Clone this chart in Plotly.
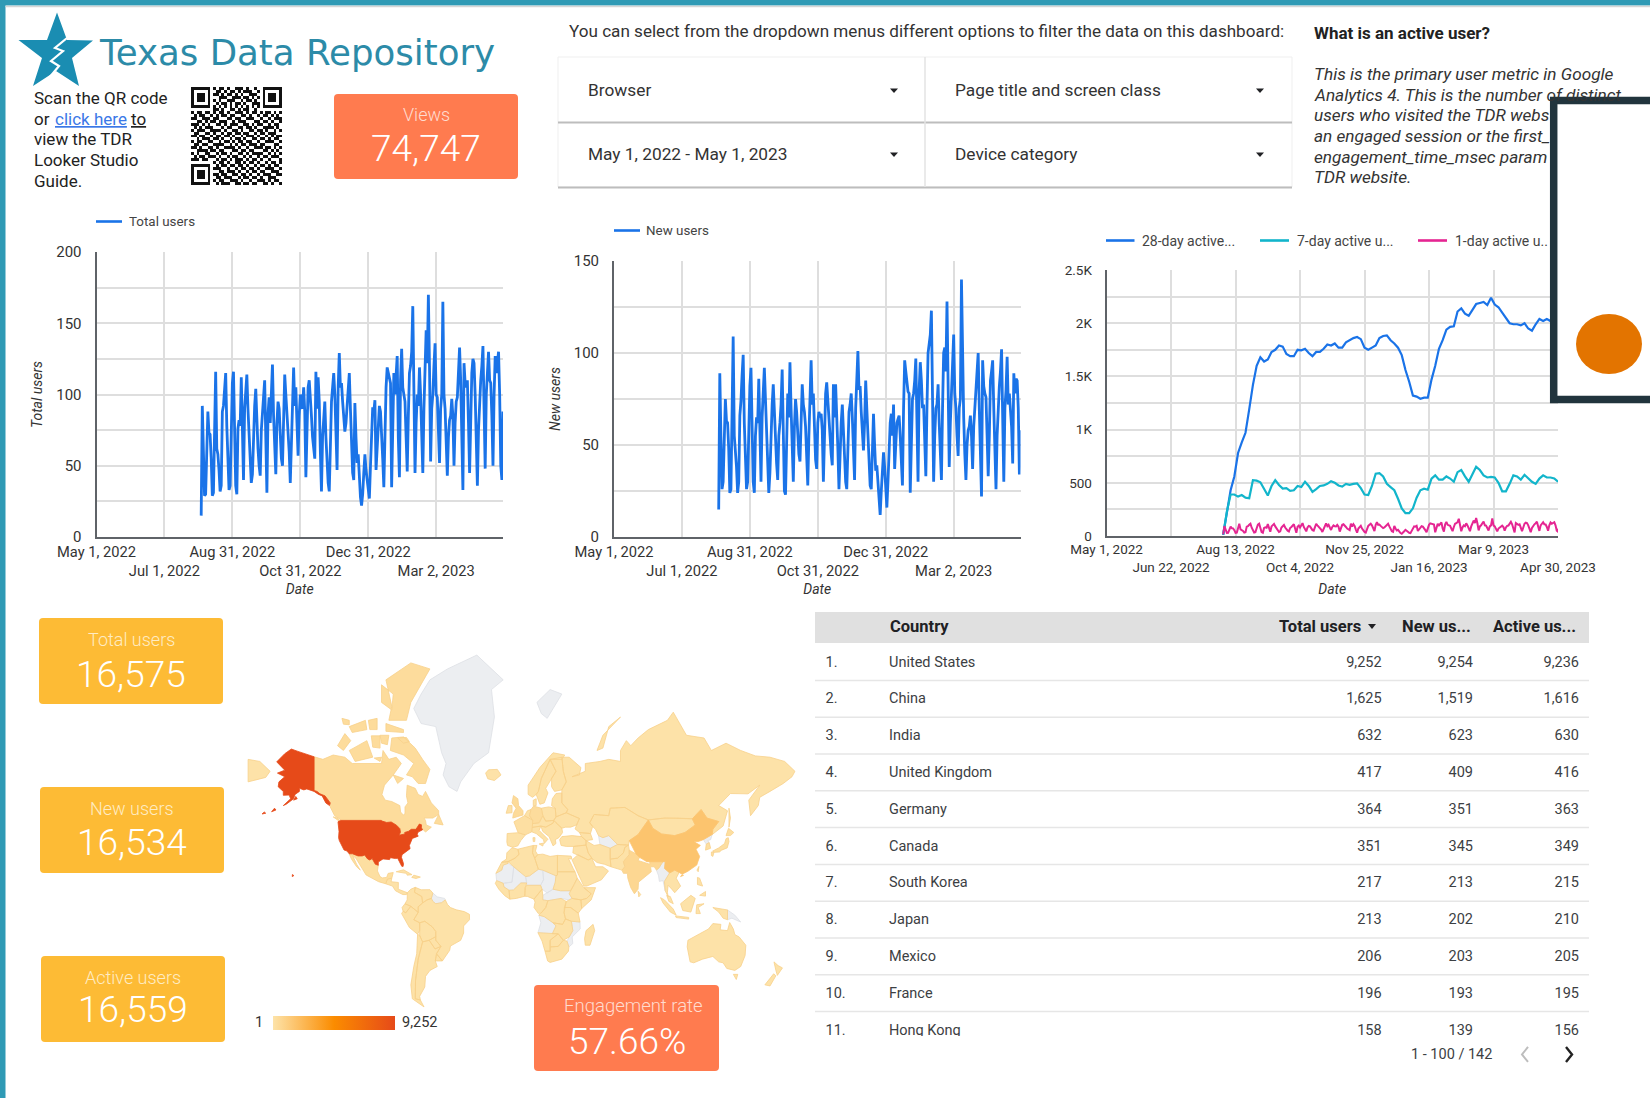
import math
import pandas as pd
import plotly.graph_objects as go

W, H = 1650, 1098

# ------------------------------------------------------------------ data
total_users = [
 15,92,60,29,30,70,88,73,72,55,29,31,80,116,62,58,47,32,36,88,92,105,115,78,50,33,36,75,108,116,
 62,36,30,76,82,78,112,82,40,90,105,114,90,72,48,38,44,80,92,104,80,62,50,43,75,85,96,110,70,31,
 86,98,80,106,121,85,60,44,80,95,90,70,55,50,85,114,100,88,80,60,38,70,95,119,92,105,80,57,85,100,
 92,90,105,88,42,85,105,110,100,85,70,60,55,116,90,112,95,60,32,70,85,95,70,48,38,32,75,95,105,115,
 100,70,47,105,129,105,108,95,85,74,80,95,100,115,90,70,45,40,94,70,52,58,40,28,22,30,45,58,47,40,
 30,27,50,75,91,88,96,47,65,85,92,88,75,55,35,80,105,119,115,110,108,35,70,115,100,118,127,70,42,110,
 132,105,100,95,70,46,85,115,120,130,162,95,45,80,100,92,119,100,70,45,90,130,145,122,170,120,53,90,100,120,
 136,100,98,75,52,90,100,165,100,90,60,43,70,82,85,97,85,50,80,95,98,115,133,110,70,33,122,108,105,110,
 80,45,80,115,125,122,100,60,36,75,100,110,120,134,90,48,100,115,130,110,108,85,50,100,127,115,125,130,100,50,
 40,88]
new_users = [
 15,89,55,26,30,60,75,63,62,48,24,26,70,109,55,48,38,24,30,66,74,88,99,62,40,26,30,60,82,92,
 58,30,24,55,65,62,86,62,30,65,80,92,75,55,38,24,35,60,72,83,65,50,40,31,55,62,72,91,55,25,
 23,60,78,65,95,70,48,30,60,75,68,55,45,41,60,83,72,68,60,45,28,55,80,96,72,78,60,42,37,62,
 68,65,67,58,30,60,78,84,76,65,55,45,39,83,65,83,68,48,26,50,62,72,55,38,30,26,55,68,72,78,
 65,50,31,70,90,101,80,82,68,55,47,62,85,70,55,40,28,26,50,67,50,36,39,28,16,12,25,38,46,38,
 28,16,30,50,62,67,55,72,37,50,62,64,66,55,40,28,70,96,90,85,79,78,24,50,75,78,85,97,60,30,
 80,95,85,70,72,55,33,70,100,105,110,123,70,30,55,70,72,83,62,45,31,70,100,103,90,128,80,38,62,80,
 90,110,78,70,55,44,70,75,140,85,65,45,31,50,58,60,66,55,37,60,70,78,90,100,70,45,22,96,82,78,
 76,55,33,55,85,90,96,70,45,26,55,72,82,90,102,65,30,70,80,98,72,78,70,60,40,89,78,86,85,70,
 34,58]
active_28day = [
 10,240,430,560,780,880,970,1190,1420,1600,1680,1640,1660,1730,1750,1790,1780,1710,1690,1690,
 1750,1745,1760,1720,1690,1730,1730,1760,1800,1790,1810,1770,1770,1820,1840,1860,1870,1850,1770,1750,
 1770,1790,1860,1880,1885,1840,1810,1770,1700,1560,1450,1320,1310,1290,1300,1300,1470,1600,1760,1840,
 1940,1965,1970,2110,2140,2090,2070,2130,2180,2190,2200,2170,2240,2175,2150,2100,2050,2000,1990,1990,
 1980,2000,1950,1930,1990,2040,2020,2040,2020,2050,2040]
active_7day = [
 10,230,390,390,370,385,360,355,525,520,505,440,380,470,525,480,445,450,425,430,
 470,460,510,470,415,440,470,475,490,515,500,475,465,490,480,490,495,450,390,385,
 470,585,590,560,490,460,430,350,260,215,215,260,360,430,445,435,540,570,530,530,
 560,540,510,600,620,560,510,580,650,620,570,550,555,550,500,420,420,490,570,560,
 530,575,540,510,490,540,570,550,550,540,510]
active_1day = total_users

data_start = "2022-08-03"
chart_ticks_a = ["2022-05-01","2022-07-01","2022-08-31","2022-10-31","2022-12-31","2023-03-02"]
chart_labels_a = ["May 1, 2022","<br>Jul 1, 2022","Aug 31, 2022","<br>Oct 31, 2022","Dec 31, 2022","<br>Mar 2, 2023"]
chart_ticks_b = ["2022-05-01","2022-06-22","2022-08-13","2022-10-04","2022-11-25","2023-01-16","2023-03-09","2023-04-30"]
chart_labels_b = ["May 1, 2022","<br>Jun 22, 2022","Aug 13, 2022","<br>Oct 4, 2022","Nov 25, 2022","<br>Jan 16, 2023","Mar 9, 2023","<br>Apr 30, 2023"]

table_countries = ["United States","China","India","United Kingdom","Germany","Canada","South Korea","Japan","Mexico","France","Hong Kong"]
table_total = [9252,1625,632,417,364,351,217,213,206,196,158]
table_new = [9254,1519,623,409,351,345,213,202,203,193,139]
table_active = [9236,1616,630,416,363,349,215,210,205,195,156]

paragraph_lines = ["This is the primary user metric in Google","Analytics 4. This is the number of distinct",
                   "users who visited the TDR webs","an engaged session or the first_",
                   "engagement_time_msec param","TDR website."]
guide_lines = ["Scan the QR code",None,"view the TDR","Looker Studio","Guide."]

qr_rows = [
"111111101011010011101001001111111","100000100110101101011100101000001","101110101101011010100111001011101",
"101110100011100111011010101011101","101110101010011100101101001011101","100000100101101011010011101000001",
"111111101010101010101010101111111","000000001101001101011001000000000",
"101101101011010011101011010110101","010110010101101100110100101101010","110011101100011011001110010010111",
"001101011011100101110001101101001","111010100110101110011010110010110","010101110001011001101101001111010",
"101110011110100110100110110100101","011001101001011011011001011011100","110110010110110100101110100101011",
"001011101101001011010011011010110","101100110010110101101100100111001","011011001111001010110111011000110",
"110100110100111101001001110110101","001111011011000110110110001101010","101001100101101001101011110010101",
"010110111010010110010100101101110","111011000101101011101011010010001",
"000000001011010011010110100101101","111111100101101101101001011010110","100000101110010010110110100111001",
"101110100011011101001011011001110","101110101101100110110100101110011","101110100110111001011011010011100",
"100000101011001110100100111010110","111111100101110011011011001101001"]

# Map outlines (lon, lat)
MAP = {
"US":[[(-124.7,48.4),(-123,49),(-95.2,49),(-94.6,48.7),(-91.5,48.1),(-88.4,48.3),(-84.8,46.9),(-83.5,46),(-82.5,45.3),(-82.1,43.6),(-83.1,42.2),(-79,42.8),(-79.2,43.5),(-76.5,44.1),(-74.7,45),(-71.5,45),(-70.3,46.2),(-69.2,47.4),(-67.8,47.1),(-67.8,45.7),(-67,44.8),(-70,43.7),(-70.7,42.7),(-70,41.7),(-74,40.6),(-75.5,38.5),(-76,37),(-75.5,35.3),(-78,33.9),(-81,32),(-81.4,30.5),(-80,26.8),(-80.3,25.2),(-81.2,25.3),(-82.8,28),(-84,30),(-85.5,29.8),(-89,30.3),(-89.5,29.2),(-91.5,29.5),(-94,29.6),(-97.2,27.8),(-97.2,25.9),(-99.2,26.5),(-101.4,29.8),(-103,29),(-104.5,29.6),(-106.5,31.8),(-108.2,31.3),(-111,31.3),(-114.8,32.5),(-117.1,32.5),(-118.5,34),(-120.6,34.6),(-122,36.7),(-123.8,39.5),(-124.3,41),(-124,44)],
 [(-141,69.6),(-145,70),(-152,70.8),(-156.5,71.3),(-161,70.3),(-166.5,68.4),(-163,67),(-161,66.3),(-166,65.5),(-161,64.5),(-165,63),(-165.5,61.5),(-162,60),(-162,58.7),(-158,58.8),(-157,57.5),(-162,55),(-160,55.5),(-155,57.5),(-154,59),(-151,60),(-151,61),(-148,60.5),(-146,60.8),(-141,60),(-138,59),(-135.5,58.5),(-133,56),(-130.5,55),(-130,56),(-133.5,58.5),(-137,59.2),(-139,60),(-141,60.3)],
 [(-155.9,19),(-154.8,19.6),(-155.8,20.3)],[(-170,52.6),(-167,53.3),(-168,54)],[(-176.5,51.7),(-174,52),(-175,52.5)],[(-155,57),(-152.5,57.5),(-153.5,58.3)]],
"CA":[[(-141,69.6),(-135,69),(-128,70),(-120,69.5),(-115,68),(-108,68),(-100,68),(-95,68),(-94,71),(-90,69),(-85,69.5),(-81.5,68),(-87,65),(-93,62),(-94.7,59),(-92.5,57),(-88,56.5),(-82.5,55),(-82,52.5),(-80,51.2),(-79,52),(-79,54.5),(-77,56),(-78,58.5),(-77.5,62),(-72,61),(-70,59),(-67,58.3),(-65,60),(-61,56),(-56,53),(-56,51.5),(-60,50),(-66,50),(-65,49),(-64.5,47),(-61,46),(-65,43.7),(-66.5,44.8),(-67,44.8),(-67.8,45.7),(-67.8,47.1),(-69.2,47.4),(-70.3,46.2),(-71.5,45),(-74.7,45),(-76.5,44.1),(-79.2,43.5),(-79,42.8),(-83.1,42.2),(-82.1,43.6),(-82.5,45.3),(-83.5,46),(-84.8,46.9),(-88.4,48.3),(-91.5,48.1),(-94.6,48.7),(-95.2,49),(-123,49),(-123.3,49.5),(-127,51),(-130,54.5),(-130,56),(-133.5,58.5),(-137,59.2),(-139,60),(-141,60.3)],
 [(-80,73.7),(-72,71.5),(-67,69),(-62,66.5),(-65,62.5),(-70,62.5),(-74,64.5),(-78,65),(-73,68),(-80,70),(-89,71),(-88,73.5)],
 [(-117,71),(-105,73),(-101,69.5),(-113,68.5)],[(-125,72),(-120,74.3),(-116,73),(-121,71)],
 [(-90,76.5),(-78,76.5),(-75,79),(-62,82.5),(-75,83),(-92,81.5),(-88,78.5)],[(-92,76),(-80,75),(-80,74.5),(-92,74.7)],
 [(-117,75.5),(-106,76.5),(-105,75),(-115,74.5)],[(-87,65),(-80,64),(-84,62.5)],[(-59,47.7),(-56,51.5),(-53,47)],[(-128,50.5),(-123.5,48.5),(-125,50)],
 [(-102,73.9),(-96,73.9),(-96,71.5),(-101,71.7)],[(-96,74),(-90,74),(-91,72.2),(-95,72.5)],[(-100,69.3),(-95,69.5),(-96,68.5)],
 [(-95,81),(-87,80),(-88,78),(-95,79)],[(-104,76.5),(-98,76.8),(-98,75),(-103,75)],[(-122,76.8),(-117,76.5),(-117,75.8),(-121,75.9)],
 [(-84,73.5),(-78,73.6),(-76,72.8),(-80,72.5)]],
"MX":[[(-117.1,32.5),(-114.8,32.5),(-111,31.3),(-108.2,31.3),(-106.5,31.8),(-104.5,29.6),(-103,29),(-101.4,29.8),(-99.2,26.5),(-97.2,25.9),(-97.8,22.5),(-96,19),(-94.5,18.2),(-91.5,18.5),(-90.5,21),(-87,21.5),(-88,18),(-91,17.5),(-92.2,14.5),(-97,15.8),(-105.5,20),(-109,25.5),(-112.5,30),(-114.7,31.5),(-112,26.5),(-109.5,23),(-112,25),(-115.5,29.5)]],
"CN":[[(80,42.5),(87,49.2),(90,45.5),(96,42.8),(105,42),(112,43.5),(119,47),(117,49.7),(123,53.5),(127,50),(135,48.5),(131,45),(130.5,42.5),(124.5,40),(121,39),(118,39),(122.5,37),(119.5,35),(122,31),(120,26),(114,22.3),(110,20.5),(108,21.6),(105,23),(101.5,21.3),(98,24),(98.5,28),(92,28),(86,28),(81,30.5),(78.5,32.5),(74,39.5)],[(109,19),(111,19.8),(110,20.2)]],
"IN":[[(74,34.5),(78.5,32.5),(81,30.5),(80,28.7),(88,26.5),(88,28),(92,28),(97,28),(94,24),(92.5,23),(91,25),(88.5,25),(89,22),(86.5,20),(80.3,15.5),(80,11),(77.5,8),(75,12),(73,18),(72.7,21),(70,21),(69,23),(71,25),(70,28),(74,32)]],
"GB":[[(-5.5,50),(1.5,51.3),(1.5,53),(-1.5,55),(-2,57.5),(-5,58.6),(-6,56),(-3.2,54),(-5,52)]],
"DE":[[(6,51),(7,53.5),(8.7,54.8),(14,54),(15,51),(12.5,48),(8,47.6),(8.2,49)]],
"KR":[[(126,34.5),(126.5,37.7),(128.5,38.5),(129.5,35.5)]],
"JP":[[(130.9,34),(135,35.7),(139,38),(140,40.5),(141.5,41),(142,39),(140.8,35.7),(137,34.5),(135.5,33.5),(132,33.3)],[(140,42),(141.7,45.5),(145.3,43.5),(143,42)],[(130,33.5),(131.8,33.5),(131,31),(130,31.5)]],
"FR":[[(-1.8,43.4),(-4.7,48.4),(2.5,51),(8.2,49),(7.5,43.8),(3.2,42.4)]],
}
MAP_USERS = {"US":9252,"CN":1625,"IN":632,"GB":417,"DE":364,"CA":351,"KR":217,"JP":213,"MX":206,"FR":196}
MAP_LOW = [
 [(-24,65.5),(-22,66.4),(-16,66.5),(-13.5,65),(-18,63.4),(-22.5,63.9)],[(52,71),(56,74),(68,77),(60,75.5),(56,71.5)],
 [(-92.2,14.5),(-91,17.5),(-88,18),(-88.5,15.8),(-83.5,15.3),(-83.6,11),(-79.5,9.5),(-77.4,8.7),(-78,7.5),(-80.5,7.5),(-85.5,10),(-87.5,13)],
 [(-85,22),(-80,23.2),(-74.2,20.2),(-77.5,19.9),(-78,21)],[(-74.4,18.5),(-73,19.9),(-68.5,18.7),(-71.5,17.8)],
 [(-77.4,8.7),(-75,11),(-72,12.2),(-72.5,9),(-67.5,6.2),(-67,2),(-70,-0.5),(-70,-4.2),(-75,-0.2),(-79,1.5),(-77.5,4)],
 [(-72,12.2),(-68,10.6),(-62,10.7),(-60,8.5),(-61,5),(-64,4),(-67,2),(-67.5,6.2),(-72.5,9)],
 [(-79,1.5),(-75,-0.2),(-78.5,-4.5),(-80.3,-3.4),(-81,-1)],
 [(-80.3,-3.4),(-78.5,-4.5),(-75,-0.2),(-70,-4.2),(-73,-9),(-69,-11),(-69,-16),(-70.4,-18.3),(-76,-14),(-81.3,-5)],
 [(-70,-4.2),(-70,-0.5),(-67,2),(-64,4),(-61,5),(-60,3),(-58,1.5),(-54,2.2),(-51.5,4),(-50,1),(-48,-1),(-44,-2.5),(-38.5,-3.7),(-35,-5.5),(-35,-9),(-39,-13),(-39,-17.5),(-41,-22),(-48,-25.5),(-48.5,-28),(-53.5,-34),(-57.5,-30),(-54.5,-25.7),(-58,-22),(-58,-16.5),(-60.5,-13.5),(-65.5,-10),(-69,-11),(-73,-9)],
 [(-69,-11),(-65.5,-10),(-60.5,-13.5),(-58,-16.5),(-58,-19.8),(-62.5,-22),(-67,-23),(-69,-19),(-69,-16)],
 [(-58,-19.8),(-58,-22),(-54.5,-25.7),(-58.5,-27.2),(-62.5,-22)],
 [(-70.4,-18.3),(-69,-19),(-67,-23),(-70,-33),(-71.8,-44),(-72,-52),(-68.5,-52.5),(-66,-55.2),(-74,-52),(-75,-46),(-73,-37),(-71,-30)],
 [(-67,-23),(-62.5,-22),(-58.5,-27.2),(-54.5,-25.7),(-57.5,-30),(-58.3,-34),(-57,-37),(-62,-39),(-65,-42),(-65.5,-47),(-69,-51),(-68.5,-52.5),(-72,-52),(-71.8,-44),(-70,-33)],
 [(-57.5,-30),(-53.5,-34),(-58.3,-34)],
 [(-13,27.7),(-9.8,29.5),(-9.5,33),(-6,35.8),(-2,35),(-1.2,32.2),(-4,30),(-8.7,28)],
 [(-8.7,28),(-4,30),(-1.2,32.2),(-2,35),(8.5,37),(8,33),(9.5,30),(12,23.5),(6,19.5),(3.3,19),(-4.8,25)],
 [(8.5,37),(11,37),(10,34),(11.5,32),(9.5,30),(8,33)],
 [(11.5,32),(15,32.3),(20,31),(25,31.6),(25,20),(24,19.5),(15,23),(12,23.5),(9.5,30)],
 [(25,31.6),(32,31.2),(34.3,31.2),(34.9,29.5),(32.5,29.8),(35.8,23.9),(37,22),(25,22)],
 [(-17,21),(-13,27.7),(-8.7,28),(-8.7,27),(-12,26),(-13,23)],
 [(-16.5,16.5),(-12,14.8),(-11.5,12.5),(-8,10.3),(-7.5,4.5),(-11,6.8),(-15,11),(-17.4,14.7)],
 [(-8,10.3),(-5,10.5),(0,15),(4,15),(3,12),(2.7,6.4),(-3,5),(-7.5,4.5)],
 [(2.7,6.4),(3,12),(4,13.5),(13.5,13.5),(14.5,11),(9,4.5),(4.5,6.3)],
 [(24,19.5),(25,20),(25,22),(37,22),(38.5,18),(36.5,14),(34,10),(27,10),(22,11),(23.5,15.5)],
 [(36.5,14),(38.5,18),(43,12),(48,8),(45,5),(41,4),(35,5),(33,8),(34,10)],
 [(43,12),(51,12),(48,4),(41.5,-1.7),(41,4),(45,5),(48,8)],
 [(9,4.5),(14.5,11),(15,7),(15,4),(18.5,3.5),(17,-1),(14,-4.5),(12,-5),(9,-1),(9.7,2.5)],
 [(18.5,3.5),(27.5,5),(31,3),(29.5,-4.5),(30.5,-8.5),(28.5,-12),(22,-11),(16,-7),(12.3,-6),(14,-4.5),(17,-1)],
 [(31,3),(33,4),(35,5),(41,4),(41.5,-1.7),(39.2,-4.7),(34,-1),(29.7,-1)],
 [(29.7,-1),(34,-1),(39.2,-4.7),(40.4,-10.5),(34.5,-10),(30.5,-8.5),(29.5,-4.5)],
 [(22,-11),(28.5,-12),(30.5,-8.5),(34.5,-10),(35.5,-16),(33,-20),(29,-22),(25.5,-18),(21.5,-18),(24,-13)],
 [(11.7,-17.3),(21.5,-18),(25.5,-18),(20,-22),(20,-28.5),(16.5,-28.5),(14.5,-22.5)],
 [(20,-22),(25.5,-18),(29,-22),(25.5,-25.7),(20,-26)],
 [(16.5,-28.5),(20,-28.5),(20,-26),(25.5,-25.7),(29,-22),(31.5,-22.5),(32.8,-26),(32.5,-28.5),(28,-33),(20,-34.8),(18.3,-34)],
 [(49.3,-12),(50.4,-16),(47.2,-25),(44,-25),(43.5,-21),(44.5,-16)],
 [(-9.3,43),(-1.8,43.4),(3.2,42.4),(0,39.5),(-2,36.8),(-5.5,36),(-9,37),(-9.5,38.8)],
 [(2.5,51),(4.5,53),(7,53.5),(6,51),(8.2,49)],
 [(7.5,43.8),(7,45.8),(13.7,46.5),(12.5,44.5),(18.5,40.2),(16,38),(15.5,40),(10.5,43)],
 [(12.5,37.8),(15.5,38.2),(15,36.7)],[(8.3,41),(9.7,41),(9.5,39),(8.5,39)],
 [(14,54),(19,54.5),(23.5,54),(24,50.5),(22.5,49),(17,48.7),(15,51)],
 [(8,47.6),(12.5,48),(15,51),(17,48.7),(22.5,49),(22,47.8),(17,46),(13.7,46.5),(7,45.8)],
 [(13.7,46.5),(17,46),(22,47.8),(22.5,49),(24,48),(28,45.5),(28.5,43.5),(26,41),(23.5,40),(24,38),(22,36.8),(19.3,41.5),(15,44)],
 [(22.5,49),(24,50.5),(31,52.2),(40,49.8),(38,47),(34,46),(30.5,46),(28,45.5),(24,48)],
 [(21,55),(21.5,57.5),(24,59.3),(28,59.5),(28,56),(32,53.5),(31,52.2),(24,50.5),(23.5,54)],
 [(-10,52),(-6,52.2),(-6,55),(-8.5,55)],
 [(5,59),(5,62),(13,67),(22,70.5),(30,70),(28,69),(20,69),(14,64),(12,60),(10.5,59),(8,58)],
 [(10.5,59),(12,60),(14,64),(20,69),(24,66),(21,64),(17,61),(18.5,59.5),(16,56),(13,55.5)],
 [(24,66),(20,69),(28,69.5),(29,66),(31,63),(28,60.5),(23,60),(21,61.5),(21,64)],
 [(8.5,55),(8.5,57),(10.5,57.5),(10.5,55)],
 [(26.5,40),(28,41.5),(35,42),(41.5,41.5),(44.5,39.5),(44.5,37.2),(36,36.5),(31,36.5),(27.5,37)],
 [(28,69.5),(33,69.5),(41,67),(40,65),(35,64.5),(44,66),(44,68),(54,68.5),(60,69),(68,68.5),(68,71),(72,73),(75,72),(80,73.5),(87,75),(100,76.5),(104,77.7),(113,74),(125,73.5),(130,71),(140,72.5),(150,71),(160,69.8),(170,69.5),(180,68.5),(187,66),(185,64.5),(179,62.5),(170,60),(163,58),(162,55),(156.7,51),(155.5,57),(163,62),(155,59.2),(143,59.3),(135,55),(141,53),(138,46.5),(132,43),(130.5,42.5),(131,45),(135,48.5),(127,50),(123,53.5),(117,49.7),(107,50),(98,50),(87,49.2),(80,51),(71,54.3),(61,54),(60,51),(50,51.5),(47,48),(49,46.3),(47.5,43),(40,43.5),(37,45.2),(38,47),(40,49.8),(31,52.2),(32,53.5),(28,56),(28,59.5),(28,60.5),(31,63),(29,66)],
 [(-186,69),(-178,68.5),(-171,66),(-174,64.3),(-186,63)],[(142,46),(142,54),(143,50)],
 [(50,51.5),(60,51),(61,54),(71,54.3),(80,51),(87,49.2),(80,42.5),(74,39.5),(73.5,37.2),(66,37.5),(60,42),(56,41),(53,42),(51,45),(49,46.3),(47,48)],
 [(87,49.2),(98,50),(107,50),(117,49.7),(119,47),(112,43.5),(105,42),(96,42.8),(90,45.5)],
 [(120.2,23),(121.5,25.2),(121,22)],
 [(61,29.5),(61.5,25),(69,23),(71,25),(70,28),(74,32),(74,34.5),(73.5,37.2),(71,36),(70,33),(66,30)],
 [(61,35.5),(66,37.5),(73.5,37.2),(71,36),(70,33),(66,30),(61,29.5)],
 [(44.5,39.5),(48.5,38),(50,37),(54,37.5),(61,35.5),(61,29.5),(61.5,25),(57,26.5),(52,27.5),(48.5,30),(46,33),(44.5,37.2)],
 [(36,36.5),(44.5,37.2),(46,33),(48.5,30),(46,29),(39,32),(35.5,33)],
 [(35,29),(39,32),(46,29),(48.5,30),(51,25),(56,25),(59.8,22.5),(55,17),(45,13),(43,13),(39,21)],
 [(40,43.5),(47.5,43),(49,40),(44.5,39.5),(41.5,41.5)],
 [(101.5,21.3),(105,23),(108,21.6),(106,18),(109,13),(105,8.7),(103,11),(100.5,13.5),(100,9),(100.5,6),(98.5,10),(98,16)],
 [(99.5,7),(102,6.2),(104,1.5),(101,3)],[(95.3,5.5),(98,4),(104,-2),(106,-6),(102,-4),(97,2)],
 [(105.5,-6.5),(114.5,-7.5),(114.5,-8.6),(106,-7.6)],[(109,1.5),(116,7),(119,5),(117.5,1),(116,-4),(110.5,-3)],
 [(119.5,-5),(120,0.8),(125,1.5),(121,-1),(122.5,-5)],[(131,-1),(141,-2.6),(141,-9),(138,-8),(135,-4)],
 [(120.5,18.5),(122,18),(124,13),(120.5,14)],[(122,7),(126,9.5),(126,6.5)],[(80,9.7),(81.8,7.5),(80.5,6)],
 [(114,-22),(113.5,-26),(115.5,-34.5),(118,-35),(124,-33),(131,-31.5),(135,-34.5),(138,-35),(140.5,-38),(146,-39),(150,-37),(153,-31),(153.5,-25),(149,-20),(146,-18.5),(145,-15),(142.5,-10.8),(141,-16),(136,-15.5),(136.5,-12),(131,-11.5),(128,-15),(122,-18),(117,-20.5)],
 [(145,-41),(148,-41),(147,-43.5)],[(172.7,-34.5),(175.5,-36.5),(178.5,-37.7),(175,-41.5),(174,-39)],[(172.5,-40.7),(174,-41.7),(170,-46.5),(166.5,-46)],
]
MAP_NODATA = [
 [(-73,78.2),(-68,76),(-58,75.5),(-54,70.5),(-51,68),(-53,65),(-49,61.5),(-43.5,60),(-41,63),(-32,68),(-22,70.5),(-20,74),(-18,77),(-20,80.5),(-12,81.5),(-30,83.6),(-50,82.5),(-62,81.5),(-68,80)],
 [(11,79),(20,80.5),(28,80),(18,76.8),(14,77.5)],
 [(-60,8.5),(-57,6),(-52,5),(-51.5,4),(-54,2.2),(-58,1.5),(-60,3),(-61,5)],
 [(-17,21),(-13,23),(-12,26),(-8.7,27),(-4.8,25),(-6,15.5),(-12,14.8),(-16.5,16.5)],
 [(-12,14.8),(-6,15.5),(-4.8,25),(3.3,19),(4,15),(0,15),(-5,10.5),(-8,10.3),(-11.5,12.5)],
 [(4,15),(3.3,19),(6,19.5),(12,23.5),(15,23),(15.5,17),(13.5,13.5),(4,13.5)],
 [(15,23),(24,19.5),(23.5,15.5),(22,11),(18,8.5),(14.5,11),(13.5,13.5),(15.5,17)],
 [(15,7),(18,8.5),(22,11),(27,10),(34,10),(33,8),(35,5),(33,4),(27.5,5),(18.5,3.5),(15,4)],
 [(12.3,-6),(16,-7),(22,-11),(24,-13),(21.5,-18),(11.7,-17.3),(13.7,-11)],
 [(34.5,-10),(40.4,-10.5),(40.5,-15),(35,-20),(35.5,-24),(32.8,-26),(31.5,-22.5),(33,-20),(35.5,-16)],
 [(53,42),(54,37.5),(61,35.5),(66,37.5),(60,42),(56,41)],
 [(124.5,40),(130.5,42.5),(129.5,40),(127.5,39.5),(128.5,38.5),(126.5,37.7)],
 [(92.5,23),(94,24),(97,28),(98.5,28),(98,24),(101.5,21.3),(98,16),(98.5,10),(97,16.5),(94.5,16),(94,19.5)],
 [(141,-2.6),(146,-6),(150,-10.5),(144,-8),(141,-9)],
]
legend_low, legend_high = 1, 9252
scale_stops = [[0,"#FDE3A9"],[0.5,"#FB8C00"],[1,"#E64A19"]]

# ------------------------------------------------------------------ styles
FONT = "Roboto"
BLUE, TEAL, PINK = "#1A73E8", "#12B5CB", "#E52592"
GRID, AXIS = "#DEDEDE", "#5F6368"
TXT = "#333333"
CORAL, AMBER = "#FF7B4F", "#FDBB35"

def px(x): return x / W
def py(y): return 1 - y / H

annotations, shapes = [], []
def text(x, y, s, size=15, color=TXT, anchor="left", weight=None, under=False, ya="middle", fam=FONT):
    f = dict(family=fam, size=size, color=color)
    if weight: f["weight"] = weight
    if under: f["lineposition"] = "under"
    annotations.append(dict(x=px(x), y=py(y), xref="paper", yref="paper", text=s, showarrow=False,
                            xanchor=anchor, yanchor=ya, font=f, borderpad=0))
def rect(x0, y0, x1, y1, fill, line=None, lw=0, layer="above"):
    shapes.append(dict(type="rect", xref="paper", yref="paper", x0=px(x0), x1=px(x1), y0=py(y0), y1=py(y1),
                       fillcolor=fill, line=dict(color=line or fill, width=lw), layer=layer))
def hline(x0, x1, y, color, width=1, layer="above"):
    shapes.append(dict(type="line", xref="paper", yref="paper", x0=px(x0), x1=px(x1), y0=py(y), y1=py(y),
                       line=dict(color=color, width=width), layer=layer))
def vline(x, y0, y1, color, width=1, layer="above"):
    shapes.append(dict(type="line", xref="paper", yref="paper", x0=px(x), x1=px(x), y0=py(y0), y1=py(y1),
                       line=dict(color=color, width=width), layer=layer))
def poly(points, fill=None, line=None, lw=0, close=True):
    d = "M" + " L".join(f"{px(a):.5f},{py(b):.5f}" for a, b in points) + (" Z" if close else "")
    shapes.append(dict(type="path", xref="paper", yref="paper", path=d,
                       fillcolor=fill or "rgba(0,0,0,0)", line=dict(color=line or "rgba(0,0,0,0)", width=lw), layer="above"))
def rrect(x0, y0, x1, y1, r, fill):
    d = (f"M{px(x0+r)},{py(y0)} L{px(x1-r)},{py(y0)} Q{px(x1)},{py(y0)} {px(x1)},{py(y0+r)} "
         f"L{px(x1)},{py(y1-r)} Q{px(x1)},{py(y1)} {px(x1-r)},{py(y1)} L{px(x0+r)},{py(y1)} "
         f"Q{px(x0)},{py(y1)} {px(x0)},{py(y1-r)} L{px(x0)},{py(y0+r)} Q{px(x0)},{py(y0)} {px(x0+r)},{py(y0)} Z")
    shapes.append(dict(type="path", xref="paper", yref="paper", path=d, fillcolor=fill,
                       line=dict(color=fill, width=0), layer="above"))

fig = go.Figure()

# ------------------------------------------------------------------ line charts
d_total = pd.date_range(data_start, periods=len(total_users), freq="D")
d_new = pd.date_range(data_start, periods=len(new_users), freq="D")
d_roll = pd.date_range(data_start, periods=len(active_28day), freq="3D")
d_one = pd.date_range(data_start, periods=len(active_1day), freq="D")
fig.add_trace(go.Scatter(x=d_total, y=total_users, mode="lines", name="Total users", line=dict(color=BLUE, width=2.8), xaxis="x", yaxis="y"))
fig.add_trace(go.Scatter(x=d_new, y=new_users, mode="lines", name="New users", line=dict(color=BLUE, width=2.8), xaxis="x2", yaxis="y2"))
fig.add_trace(go.Scatter(x=d_roll, y=active_28day, mode="lines", name="28-day active users", line=dict(color=BLUE, width=2.2), xaxis="x3", yaxis="y3"))
fig.add_trace(go.Scatter(x=d_roll, y=active_7day, mode="lines", name="7-day active users", line=dict(color=TEAL, width=2.2), xaxis="x3", yaxis="y3"))
fig.add_trace(go.Scatter(x=d_one, y=active_1day, mode="lines", name="1-day active users", line=dict(color=PINK, width=2), xaxis="x3", yaxis="y3"))

def xax(x0, x1, ticks, labels, end, size, anchor, lab_off, standoff):
    return dict(domain=[px(x0), px(x1)], range=["2022-05-01", end], type="date", tickmode="array", anchor=anchor,
                tickvals=ticks, ticktext=labels, tickangle=0, showgrid=True, gridcolor=GRID, gridwidth=1.5,
                showline=True, linecolor=AXIS, linewidth=2, ticks="", zeroline=False, ticklabelstandoff=lab_off,
                tickfont=dict(family=FONT, size=size, color=TXT),
                title=dict(text="<i>Date</i>", font=dict(family=FONT, size=14, color=TXT), standoff=standoff))
def yax(y0, y1, top, step, every, size, anchor, title=None, fmt=str, standoff=10):
    vals = [i * step for i in range(int(top / step) + 1)]
    return dict(domain=[py(y1), py(y0)], range=[0, top], tickmode="array", tickvals=vals, anchor=anchor,
                ticktext=[fmt(v) if v % every == 0 else "" for v in vals], showgrid=True, gridcolor=GRID, gridwidth=1.5,
                showline=True, linecolor=AXIS, linewidth=2, ticks="", zeroline=False, ticklabelstandoff=10,
                tickfont=dict(family=FONT, size=size, color=TXT),
                title=dict(text=f"<i>{title}</i>", font=dict(family=FONT, size=14, color=TXT), standoff=standoff) if title else None)
def kfmt(v):
    if v == 0: return "0"
    if v < 1000: return str(v)
    return f"{v/1000:g}K"

layout_axes = dict(
    xaxis=xax(96.5, 503, chart_ticks_a, chart_labels_a, "2023-05-01", 14.7, "y", 0, 5),
    yaxis=yax(252, 537, 200, 25, 50, 15, "x", "Total users"),
    xaxis2=xax(614, 1020.5, chart_ticks_a, chart_labels_a, "2023-05-01", 14.7, "y2", 0, 5),
    yaxis2=yax(261, 537, 150, 25, 50, 15, "x2", "New users"),
    xaxis3=xax(1106.6, 1558, chart_ticks_b, chart_labels_b, "2023-04-30", 13.5, "y3", 0, 10),
    yaxis3=yax(270, 536, 2500, 250, 500, 13.5, "x3", None, kfmt),
)

# ------------------------------------------------------------------ map
def merc(lat):
    return math.log(math.tan(math.pi / 4 + math.radians(lat) / 2))
def lerp_hex(a, b, t):
    ca = [int(a[i:i+2], 16) for i in (1, 3, 5)]
    cb = [int(b[i:i+2], 16) for i in (1, 3, 5)]
    return "#" + "".join(f"{round(p + (q - p) * t):02X}" for p, q in zip(ca, cb))
def scale_colour(v):
    t = v / legend_high
    if t <= 0.5:
        return lerp_hex(scale_stops[0][1], scale_stops[1][1], t / 0.5)
    return lerp_hex(scale_stops[1][1], scale_stops[2][1], (t - 0.5) / 0.5)
def add_polys(polys, fill, border, name):
    xs, ys = [], []
    for p in polys:
        pts = list(p) + [p[0]]
        xs += [a for a, b in pts] + [None]
        ys += [merc(b) for a, b in pts] + [None]
    fig.add_trace(go.Scatter(x=xs, y=ys, mode="lines", fill="toself", fillcolor=fill, name=name,
                             line=dict(color=border, width=0.8), xaxis="x4", yaxis="y4", hoverinfo="name"))

add_polys(MAP_NODATA, "#ECEEF1", "#DDE0E4", "No data")
add_polys(MAP_LOW, scale_colour(30), "#F7D08A", "Other countries")
for code in sorted(MAP_USERS, key=MAP_USERS.get):
    c = scale_colour(MAP_USERS[code])
    add_polys(MAP[code], c, "#F7D08A" if MAP_USERS[code] < 1000 else c, code)
fig.add_trace(go.Scatter(x=[-999, -999], y=[-99, -99], mode="markers", showlegend=False, xaxis="x4", yaxis="y4",
    marker=dict(size=1, color=[legend_low, legend_high], cmin=legend_low, cmax=legend_high, colorscale=scale_stops, showscale=True,
                colorbar=dict(orientation="h", x=px(272.5), xanchor="left", y=py(1022.5), yanchor="middle", len=121.5, lenmode="pixels",
                              thickness=14, thicknessmode="pixels", outlinewidth=0, showticklabels=False, ticks="", xpad=0, ypad=0))))
MAP_KX, MAP_X0, MAP_KY, MAP_Y0 = 1.466, 520.8, 87.0, 906.0
layout_axes["xaxis4"] = dict(domain=[px(240), px(800)], range=[(240 - MAP_X0) / MAP_KX, (800 - MAP_X0) / MAP_KX], visible=False, anchor="y4")
layout_axes["yaxis4"] = dict(domain=[py(1040), py(650)], range=[(MAP_Y0 - 1040) / MAP_KY, (MAP_Y0 - 650) / MAP_KY], visible=False, anchor="x4")

# ------------------------------------------------------------------ table
rows = list(range(1, len(table_countries) + 1))
ROW0, ROWH = 663.0, 36.8
T_TOP, T_BOTTOM = 612, 1036
col_rank, col_country, col_total, col_new, col_active = 825.5, 889, 1381.6, 1473, 1579
def col_trace(xpos, vals, pos, size=14.5, color="#3c4043"):
    fig.add_trace(go.Scatter(x=[xpos] * len(vals), y=rows[:len(vals)], mode="text", text=vals, textposition=pos,
                             textfont=dict(family=FONT, size=size, color=color), xaxis="x5", yaxis="y5", showlegend=False, hoverinfo="skip"))
col_trace(col_rank, [f"{r}." for r in rows], "middle right")
col_trace(col_country, table_countries, "middle right")
col_trace(col_total, [f"{v:,}" for v in table_total], "middle left")
col_trace(col_new, [f"{v:,}" for v in table_new], "middle left")
col_trace(col_active, [f"{v:,}" for v in table_active], "middle left")
layout_axes["xaxis5"] = dict(domain=[px(815), px(1589)], range=[815, 1589], visible=False, anchor="y5")
layout_axes["yaxis5"] = dict(domain=[py(T_BOTTOM), py(T_TOP)], range=[(T_BOTTOM - ROW0) / ROWH + 1, (T_TOP - ROW0) / ROWH + 1], visible=False, anchor="x5")
rect(815, T_TOP, 1589, 643, "#E0E0E0", layer="below")
for r in rows[:-1]:
    yy = ROW0 - 1 + (r - 1) * ROWH + ROWH / 2
    hline(815, 1589, yy, "#E6E6E6", 1.5, layer="below")
text(889, 626, "Country", 16.5, "#202124", weight=700)
text(1362, 626, "Total users", 16.5, "#202124", anchor="right", weight=700)
poly([(1368, 624), (1376, 624), (1372, 629)], fill="#202124")
text(1401, 626, "New us...", 16.5, "#202124", weight=700)
text(1492, 626, "Active us...", 16.5, "#202124", weight=700)
text(1410, 1054, "1 - 100 / 142", 14.5, "#3c4043")
poly([(1528, 1047), (1522, 1054.5), (1528, 1062)], line="#BDBDBD", lw=2, close=False)
poly([(1566, 1047), (1572, 1054.5), (1566, 1062)], line="#222222", lw=2.4, close=False)

# ------------------------------------------------------------------ QR
qr_z = [[int(c) for c in r.ljust(33, "0")[:33]] for r in qr_rows]
fig.add_trace(go.Heatmap(z=qr_z, colorscale=[[0, "#FFFFFF"], [1, "#111111"]], showscale=False, xaxis="x6", yaxis="y6", hoverinfo="skip"))
layout_axes["xaxis6"] = dict(domain=[px(191), px(282)], visible=False, anchor="y6")
layout_axes["yaxis6"] = dict(domain=[py(185), py(87)], visible=False, autorange="reversed", anchor="x6")

# ------------------------------------------------------------------ frame / logo / text
rect(0, 0, W, 5.5, "#2F9AB5")
rect(0, 0, 5.5, H, "#2F9AB5")
hline(5.5, W, 6.5, "#D5D5D5", 1.5)
poly([(57, 12.5), (67, 40), (93, 40.5), (72, 58), (79, 86), (56, 71), (33, 86), (42, 58), (18.5, 40), (47, 40)], fill="#1A8DB2")
poly([(67, 38), (55, 48), (63, 51), (51, 61), (59, 66), (49, 78)], line="#FFFFFF", lw=2.2, close=False)
text(98, 53, "Texas Data Repository", 35.6, "#2C8BA8", fam="DejaVu Sans")

text(33, 98, guide_lines[0], 17, "#222222")
text(33, 119, "or ", 17, "#222222")
text(53.5, 119, "click here", 17, "#3B78E7", under=True)
text(129.5, 119, "to", 17, "#222222", under=True)
for yy, s in zip([139, 160, 181], guide_lines[2:]):
    text(33, yy, s, 17, "#222222")

def card(x0, y0, x1, y1, fill, label, value, ylab, yval, labcol, labx=None, labsize=18):
    rrect(x0, y0, x1, y1, 4, fill)
    cx = (x0 + x1) / 2
    text(labx if labx else cx, ylab, label, labsize, labcol, anchor="center", weight=300)
    text(cx, yval, value, 37, "#FFFFFF", anchor="center", weight=300)
card(334, 94, 518, 179, CORAL, "Views", "74,747", 115, 149, "#FFDCCF")
card(39, 618, 223, 704, AMBER, "Total users", "16,575", 639, 674, "#FFECC4")
card(40, 787, 224, 873, AMBER, "New users", "16,534", 808, 842, "#FFECC4")
card(41, 956, 225, 1042, AMBER, "Active users", "16,559", 977, 1010, "#FFECC4")
card(534, 985, 719, 1071, CORAL, "Engagement rate", "57.66%", 1006, 1041, "#FFDCCF", labx=633, labsize=18.5)

text(259, 1022, str(legend_low), 14.5, anchor="center")
text(401, 1022, f"{legend_high:,}", 14.5)

text(568, 31, "You can select from the dropdown menus different options to filter the data on this dashboard:", 17.1, TXT)
rect(558, 57, 1292, 187, "#FFFFFF", "#EFEFEF", 1)
hline(558, 1292, 122.5, "#BDBDBD", 2)
hline(558, 1292, 187.5, "#BDBDBD", 2)
vline(925, 57, 187, "#E3E3E3", 1.5)
for (xx, yy, s) in [(587, 90, "Browser"), (954, 90, "Page title and screen class"),
                    (587, 154, "May 1, 2022 - May 1, 2023"), (954, 154, "Device category")]:
    text(xx, yy, s, 17.3, TXT)
for xx, yy in [(894, 88.5), (1260, 88.5), (894, 152.5), (1260, 152.5)]:
    poly([(xx - 4, yy), (xx + 4, yy), (xx, yy + 4.5)], fill="#202124")

text(1313, 32.5, "What is an active user?", 17, "#222222", weight=700)
for yy, s in zip([74, 95, 115, 136, 157, 177], paragraph_lines):
    text(1313, yy, f"<i>{s}</i>", 17.2, TXT)

# legends of the line charts
for (x0, x1, tx, yy, col, s, sz) in [(96, 122, 128, 221.5, BLUE, "Total users", 13.4),
                                 (614, 640, 645, 230.5, BLUE, "New users", 13.4),
                                 (1106, 1134.5, 1141, 240.5, BLUE, "28-day active...", 14),
                                 (1260, 1289, 1295.5, 240.5, TEAL, "7-day active u...", 14),
                                 (1418, 1447, 1454, 240.5, PINK, "1-day active u..", 14)]:
    hline(x0, x1, yy, col, 2.6)
    text(tx, yy, s, sz, "#444444")

# overlay box
rect(1553.7, 100.5, 1665, 399.5, "#FFFFFF", "#21343D", 7.5)
shapes.append(dict(type="circle", xref="paper", yref="paper", x0=px(1576), x1=px(1642), y0=py(314), y1=py(374),
                   fillcolor="#E37400", line=dict(color="#E37400", width=0), layer="above"))

fig.update_layout(width=W, height=H, autosize=False, margin=dict(l=0, r=0, t=0, b=0, autoexpand=False), showlegend=False,
                  paper_bgcolor="#FFFFFF", plot_bgcolor="rgba(0,0,0,0)", font=dict(family=FONT),
                  shapes=shapes, annotations=annotations, **layout_axes)
fig.write_html("out.html", config=dict(displayModeBar=False),
               post_script="document.body.style.margin='0';document.body.style.overflow='hidden';")
